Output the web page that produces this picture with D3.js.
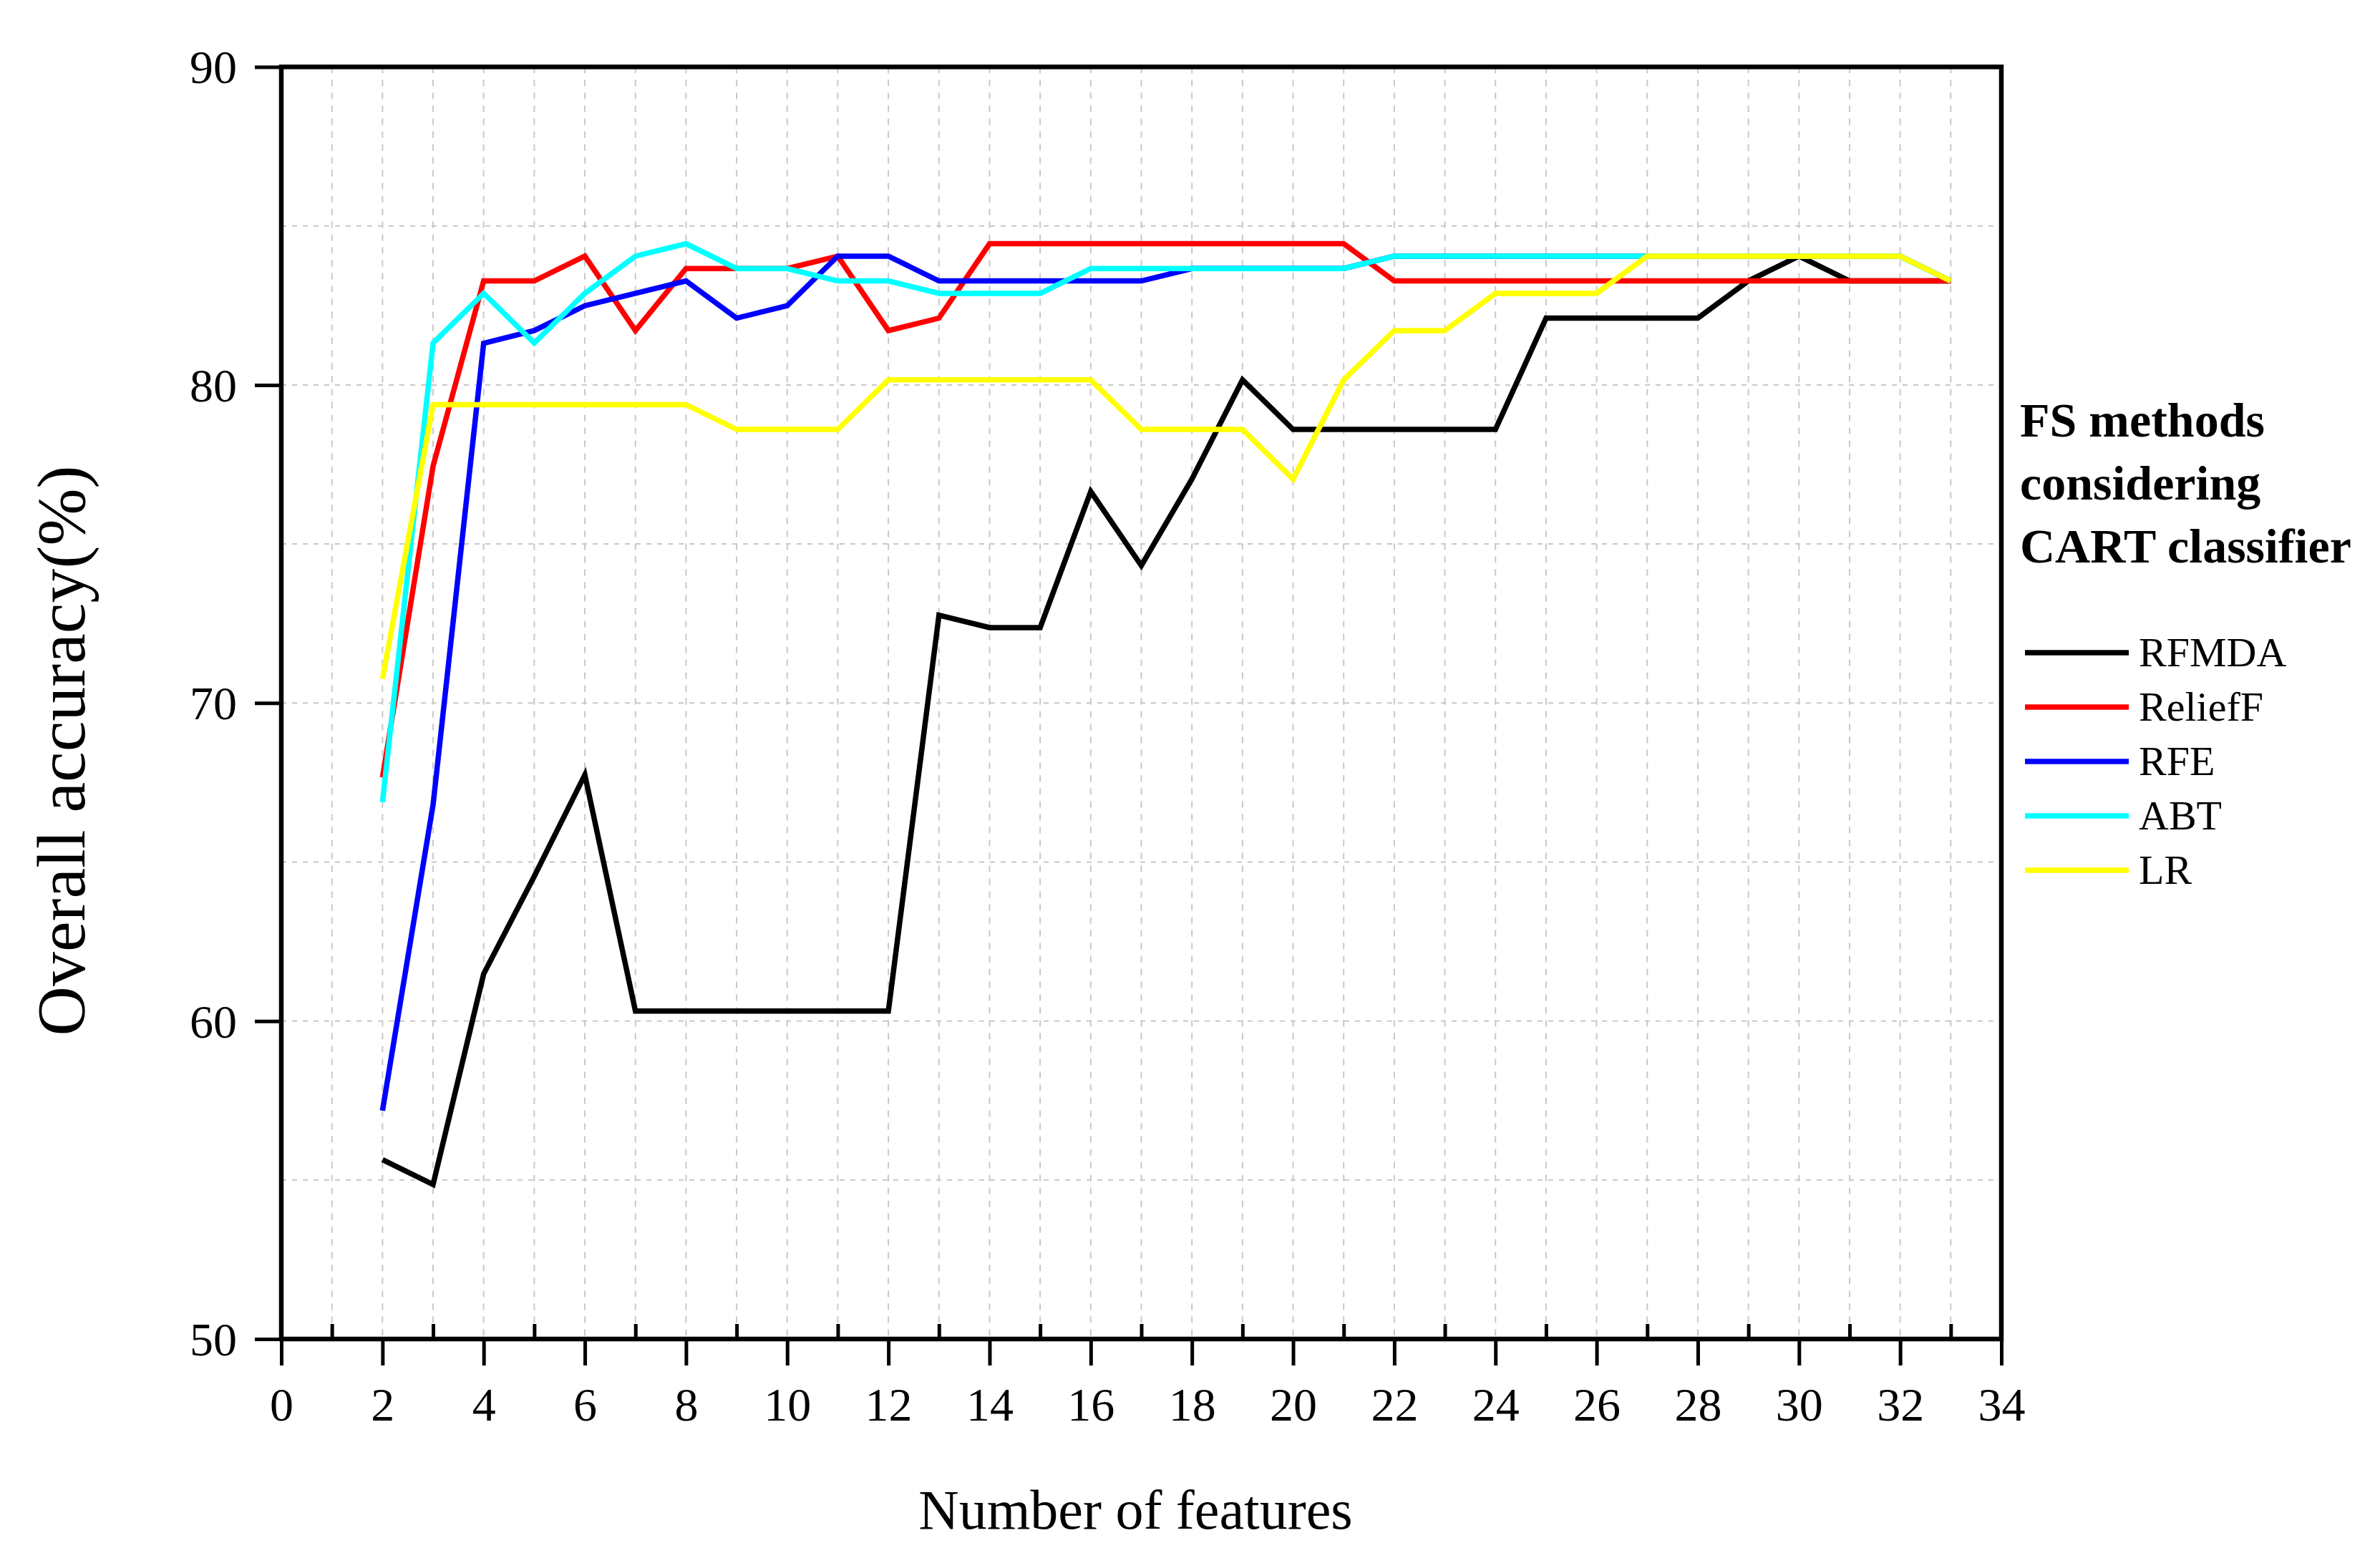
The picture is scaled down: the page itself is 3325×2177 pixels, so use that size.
<!DOCTYPE html>
<html>
<head>
<meta charset="utf-8">
<script src="https://cdn.jsdelivr.net/npm/d3@7"></script>
<style>
  html, body { margin: 0; padding: 0; background: #ffffff; }
  svg { display: block; }
  text { font-family: "Liberation Serif", "Times New Roman", serif; fill: #000; }
</style>
</head>
<body>
<svg id="chart" width="3325" height="2177"></svg>
<script>
// ---------- data ----------
const features = [2,3,4,5,6,7,8,9,10,11,12,13,14,15,16,17,18,19,20,21,22,23,24,25,26,27,28,29,30,31,32,33];

const rfmda   = [55.64,54.86,61.48,64.55,67.74,60.31,60.31,60.31,60.31,60.31,60.31,72.76,72.37,72.37,76.65,74.32,77.04,80.16,78.60,78.60,78.60,78.60,78.60,82.10,82.10,82.10,82.10,83.27,84.05,83.27,83.27,83.27];
const relieff = [67.66,77.45,83.27,83.27,84.05,81.71,83.66,83.66,83.66,84.05,81.71,82.10,84.44,84.44,84.44,84.44,84.44,84.44,84.44,84.44,83.27,83.27,83.27,83.27,83.27,83.27,83.27,83.27,83.27,83.27,83.27,83.27];
const rfe     = [57.18,66.80,81.31,81.71,82.49,82.88,83.27,82.10,82.49,84.05,84.05,83.27,83.27,83.27,83.27,83.27,83.66,83.66,83.66,83.66,84.05,84.05,84.05,84.05,84.05,84.05,84.05,84.05,84.05,84.05,84.05,83.27];
const abt     = [66.88,81.32,82.88,81.32,82.88,84.05,84.44,83.66,83.66,83.27,83.27,82.88,82.88,82.88,83.66,83.66,83.66,83.66,83.66,83.66,84.05,84.05,84.05,84.05,84.05,84.05,84.05,84.05,84.05,84.05,84.05,83.27];
const lr      = [70.76,79.38,79.38,79.38,79.38,79.38,79.38,78.60,78.60,78.60,80.16,80.16,80.16,80.16,80.16,78.60,78.60,78.60,77.04,80.16,81.71,81.71,82.88,82.88,82.88,84.05,84.05,84.05,84.05,84.05,84.05,83.27];

const seriesNames  = ["RFMDA", "ReliefF", "RFE", "ABT", "LR"];
const seriesColors = ["#000000", "#ff0000", "#0000ff", "#00ffff", "#ffff00"];
const seriesValues = [rfmda, relieff, rfe, abt, lr];

const xMajorTicks = [0,2,4,6,8,10,12,14,16,18,20,22,24,26,28,30,32,34];
const xMinorTicks = [1,3,5,7,9,11,13,15,17,19,21,23,25,27,29,31,33];
const yMajorTicks = [50,60,70,80,90];
const yGridTicks  = [55,60,65,70,75,80,85];
const xGridTicks  = d3.range(1, 34);

const xTitle = "Number of features";
const yTitle = "Overall accuracy(%)";
const legendTitle = ["FS methods", "considering", "CART classifier"];

// ---------- layout ----------
const svg = d3.select("#chart");
const L = 393, R = 2796, T = 93.5, B = 1871;

const x = d3.scaleLinear().domain([0, 34]).range([L, R]);
const y = d3.scaleLinear().domain([50, 90]).range([B, T]);

svg.append("rect").attr("width", 3325).attr("height", 2177).attr("fill", "#ffffff");

// gridlines
const grid = svg.append("g");
grid.selectAll("line.vg").data(xGridTicks).enter().append("line")
  .attr("x1", d => x(d)).attr("x2", d => x(d))
  .attr("y1", T).attr("y2", B)
  .attr("stroke", "#c8c8c8").attr("stroke-width", 2)
  .attr("stroke-dasharray", "9,9");
grid.selectAll("line.hg").data(yGridTicks).enter().append("line")
  .attr("x1", L).attr("x2", R)
  .attr("y1", d => y(d)).attr("y2", d => y(d))
  .attr("stroke", "#c8c8c8").attr("stroke-width", 2)
  .attr("stroke-dasharray", "7,8");

// series lines
const line = d3.line()
  .x((d, i) => x(features[i]))
  .y(d => y(d));

seriesValues.forEach((vals, k) => {
  svg.append("path")
    .datum(vals)
    .attr("d", line)
    .attr("fill", "none")
    .attr("stroke", seriesColors[k])
    .attr("stroke-width", 7.5)
    .attr("stroke-linejoin", "miter")
    .attr("stroke-linecap", "butt");
});

// axes: x major (outward), x minor (inward)
const xAxisMajor = svg.append("g")
  .attr("transform", `translate(0,${B})`)
  .call(d3.axisBottom(x).tickValues(xMajorTicks).tickSize(37).tickFormat(d3.format("d")));
xAxisMajor.select(".domain").remove();
xAxisMajor.selectAll(".tick line").attr("stroke", "#000").attr("stroke-width", 5);
xAxisMajor.selectAll(".tick text")
  .attr("y", 114).attr("dy", 0)
  .style("font-size", "66px")
  .style("font-family", "'Liberation Serif', serif");

const xAxisMinor = svg.append("g")
  .attr("transform", `translate(0,${B})`)
  .call(d3.axisBottom(x).tickValues(xMinorTicks).tickSize(-21).tickFormat(""));
xAxisMinor.select(".domain").remove();
xAxisMinor.selectAll(".tick line").attr("stroke", "#000").attr("stroke-width", 5);

// y axis major (outward)
const yAxis = svg.append("g")
  .attr("transform", `translate(${L},0)`)
  .call(d3.axisLeft(y).tickValues(yMajorTicks).tickSize(37).tickPadding(25).tickFormat(d3.format("d")));
yAxis.select(".domain").remove();
yAxis.selectAll(".tick line").attr("stroke", "#000").attr("stroke-width", 5);
yAxis.selectAll(".tick text")
  .attr("dy", "0.34em")
  .style("font-size", "66px")
  .style("font-family", "'Liberation Serif', serif");

// frame
svg.append("rect")
  .attr("x", L).attr("y", T)
  .attr("width", R - L).attr("height", B - T)
  .attr("fill", "none").attr("stroke", "#000").attr("stroke-width", 6.5);

// axis titles
svg.append("text")
  .attr("x", (L + R) / 2 - 8).attr("y", 2136)
  .attr("text-anchor", "middle")
  .style("font-size", "78px")
  .text(xTitle);

svg.append("text")
  .attr("transform", "translate(118,1049) rotate(-90)")
  .attr("text-anchor", "middle")
  .style("font-size", "96px")
  .text(yTitle);

// legend
const lg = svg.append("g");
legendTitle.forEach((t, i) => {
  lg.append("text")
    .attr("x", 2822).attr("y", 610 + i * 88)
    .style("font-size", "68px").style("font-weight", "bold")
    .text(t);
});
seriesNames.forEach((n, i) => {
  const yy = 912 + i * 76;
  lg.append("line")
    .attr("x1", 2829).attr("x2", 2974)
    .attr("y1", yy).attr("y2", yy)
    .attr("stroke", seriesColors[i]).attr("stroke-width", 7.5);
  lg.append("text")
    .attr("x", 2988).attr("y", yy + 19)
    .style("font-size", "58px")
    .text(n);
});
</script>
</body>
</html>
